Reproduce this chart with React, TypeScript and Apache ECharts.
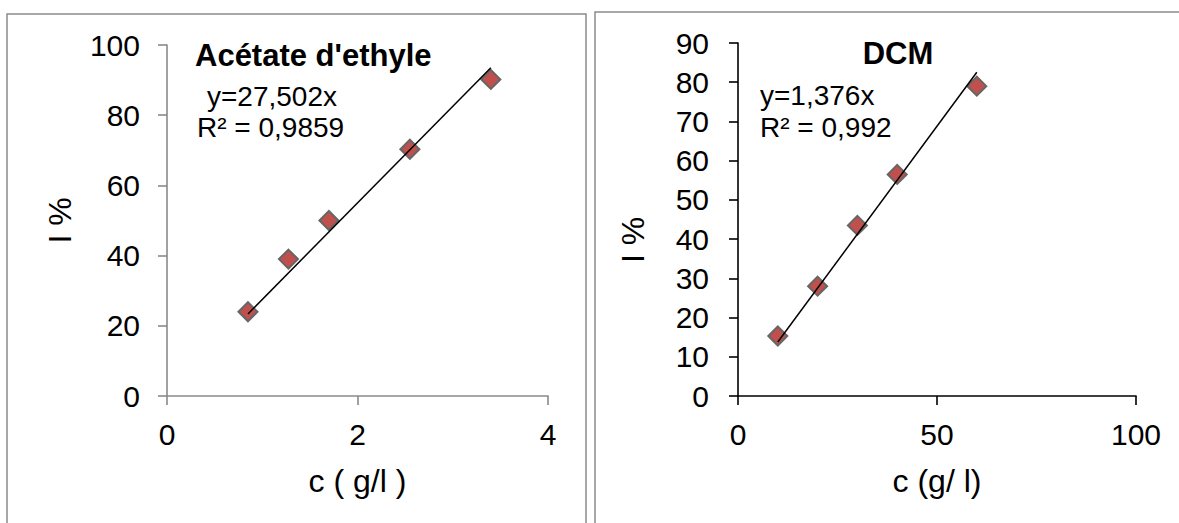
import React, { useEffect, useRef } from "react";
import * as echarts from "echarts";

// ---- Data ----
const accConc = [0.85, 1.275, 1.7, 2.55, 3.4];
const accI = [24, 39, 50, 70.3, 90.2];
const accSlope = 27.502;
const accR2 = "0,9859";

const dcmConc = [10, 20, 30, 40, 60];
const dcmI = [15.3, 28, 43.5, 56.5, 79];
const dcmSlope = 1.376;
const dcmR2 = "0,992";

const accXTicks = { min: 0, max: 4, interval: 2 };
const accYTicks = { min: 0, max: 100, interval: 20 };
const dcmXTicks = { min: 0, max: 100, interval: 50 };
const dcmYTicks = { min: 0, max: 90, interval: 10 };

const FONT = "'Liberation Sans', Arial, sans-serif";

function trend(xs: number[], slope: number) {
  const lo = Math.min(...xs);
  const hi = Math.max(...xs);
  return [
    [lo, slope * lo],
    [hi, slope * hi],
  ];
}

function axis(gridIndex: number, t: any, color: string, extra: any) {
  return {
    gridIndex,
    type: "value",
    min: t.min,
    max: t.max,
    interval: t.interval,
    axisLine: { show: true, onZero: false, lineStyle: { color, width: 1.6 } },
    axisTick: { show: true, inside: false, length: 9, lineStyle: { color, width: 1.6 } },
    splitLine: { show: false },
    ...extra,
  };
}

export default function App() {
  const ref = useRef<HTMLDivElement>(null);
  useEffect(() => {
    if (!ref.current) return;
    const chart = echarts.init(ref.current, undefined, { renderer: "svg" });
    const labelStyle = (margin: number) => ({
      fontSize: 30,
      color: "#000",
      fontFamily: FONT,
      margin,
    });
    const nameStyle = { fontSize: 32, color: "#000", fontFamily: FONT };
    const marker = {
      color: "#C0504D",
      borderColor: "#666666",
      borderWidth: 2,
      opacity: 1,
    };
    const eq = (text: string, x: number, y: number) => ({
      type: "text",
      x,
      y,
      style: {
        text,
        fontSize: 28,
        fontFamily: FONT,
        fill: "#000",
        align: "left",
        verticalAlign: "middle",
      },
    });
    chart.setOption({
      animation: false,
      backgroundColor: "#fff",
      grid: [
        { left: 167, top: 45, width: 381, height: 351 },
        { left: 738, top: 43, width: 398, height: 353 },
      ],
      xAxis: [
        axis(0, accXTicks, "#8a8a8a", {
          axisLabel: labelStyle(23),
          name: "c ( g/l )",
          nameLocation: "middle",
          nameGap: 69,
          nameTextStyle: nameStyle,
        }),
        axis(1, dcmXTicks, "#000", {
          axisLabel: labelStyle(23),
          name: "c (g/ l)",
          nameLocation: "middle",
          nameGap: 69,
          nameTextStyle: nameStyle,
        }),
      ],
      yAxis: [
        axis(0, accYTicks, "#8a8a8a", {
          axisLabel: labelStyle(27),
          name: "I %",
          nameLocation: "middle",
          nameGap: 91,
          nameTextStyle: nameStyle,
        }),
        axis(1, dcmYTicks, "#000", {
          axisLabel: labelStyle(29),
        }),
      ],
      series: [
        {
          type: "scatter",
          xAxisIndex: 0,
          yAxisIndex: 0,
          symbol: "diamond",
          symbolSize: 19,
          itemStyle: marker,
          data: accConc.map((c, i) => [c, accI[i]]),
          z: 2,
        },
        {
          type: "line",
          xAxisIndex: 0,
          yAxisIndex: 0,
          symbol: "none",
          lineStyle: { color: "#000", width: 1.5 },
          data: trend(accConc, accSlope),
          z: 3,
        },
        {
          type: "scatter",
          xAxisIndex: 1,
          yAxisIndex: 1,
          symbol: "diamond",
          symbolSize: 19,
          itemStyle: marker,
          data: dcmConc.map((c, i) => [c, dcmI[i]]),
          z: 2,
        },
        {
          type: "line",
          xAxisIndex: 1,
          yAxisIndex: 1,
          symbol: "none",
          lineStyle: { color: "#000", width: 1.5 },
          data: trend(dcmConc, dcmSlope),
          z: 3,
        },
      ],
      graphic: [
        {
          type: "rect",
          shape: { x: 7, y: 14, width: 579, height: 530 },
          style: { fill: "none", stroke: "#8c8c8c", lineWidth: 1.5 },
          z: 0,
        },
        {
          type: "rect",
          shape: { x: 595, y: 12, width: 600, height: 530 },
          style: { fill: "none", stroke: "#8c8c8c", lineWidth: 1.5 },
          z: 0,
        },
        {
          type: "text",
          x: 195,
          y: 55,
          style: {
            text: "Acétate d'ethyle",
            fontSize: 31,
            fontWeight: "bold",
            fontFamily: FONT,
            fill: "#000",
            align: "left",
            verticalAlign: "middle",
          },
        },
        eq("y=" + String(accSlope).replace(".", ",") + "x", 207, 96),
        eq("R² = " + accR2, 197, 127),
        {
          type: "text",
          x: 898,
          y: 53,
          style: {
            text: "DCM",
            fontSize: 31,
            fontWeight: "bold",
            fontFamily: FONT,
            fill: "#000",
            align: "center",
            verticalAlign: "middle",
          },
        },
        eq("y=" + String(dcmSlope).replace(".", ",") + "x", 760, 95),
        eq("R² = " + dcmR2, 760, 127),
        {
          type: "text",
          x: 633,
          y: 240,
          rotation: Math.PI / 2,
          style: {
            text: "I %",
            fontSize: 32,
            fontFamily: FONT,
            fill: "#000",
            align: "center",
            verticalAlign: "middle",
          },
        },
      ],
    });
    return () => chart.dispose();
  }, []);
  return (
    <div
      ref={ref}
      style={{ position: "fixed", left: 0, top: 0, width: 1179, height: 523 }}
    />
  );
}
